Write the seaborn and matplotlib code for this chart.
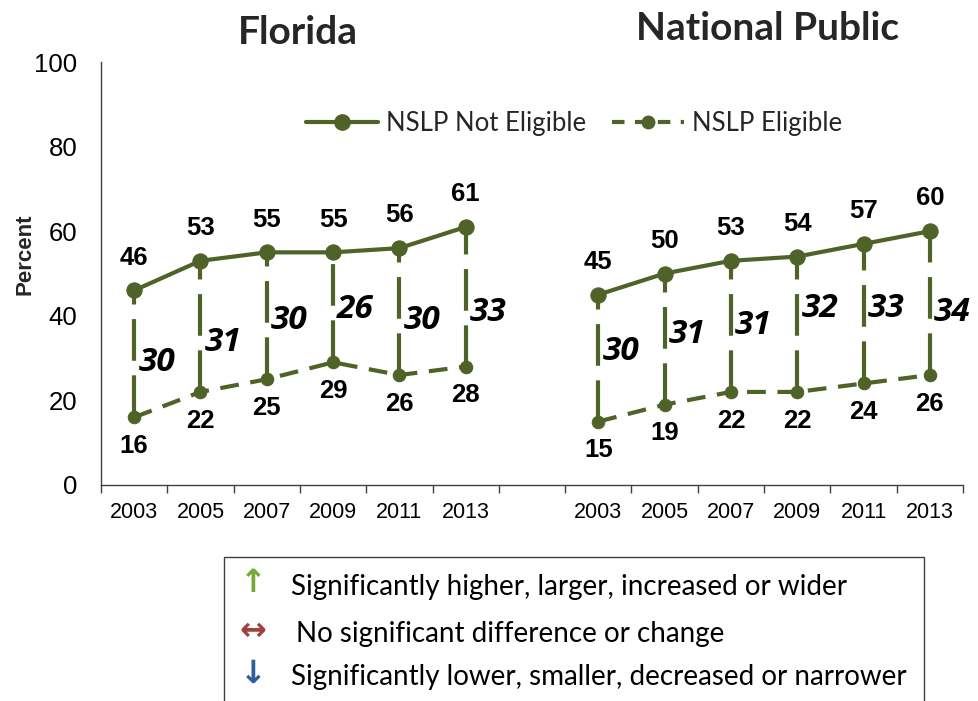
import matplotlib
matplotlib.use("Agg")
import matplotlib.pyplot as plt
from matplotlib.lines import Line2D
from matplotlib.patches import Rectangle
import seaborn as sns
import pandas as pd
import numpy as np

# ---------------- data ----------------
years = ["2003", "2005", "2007", "2009", "2011", "2013"]
panels = ["Florida", "National Public"]
fl_not_eligible = [46, 53, 55, 55, 56, 61]
fl_eligible = [16, 22, 25, 29, 26, 28]
fl_gap = [30, 31, 30, 26, 30, 33]
np_not_eligible = [45, 50, 53, 54, 57, 60]
np_eligible = [15, 19, 22, 22, 24, 26]
np_gap = [30, 31, 31, 32, 33, 34]
series_names = ["NSLP Not Eligible", "NSLP Eligible"]
sig_labels = ["Significantly higher, larger, increased or wider",
              "No significant difference or change",
              "Significantly lower, smaller, decreased or narrower"]

# ---------------- layout (not data) ----------------
fl_gap_label_y = [29, 33.8, 39, 41.4, 39, 40.7]
np_gap_label_y = [31.5, 35.5, 37.8, 41.8, 41.8, 40.7]
GREEN = "#4F6228"

sns.set_theme(style="white")
plt.rcParams["font.family"] = ["Liberation Sans", "DejaVu Sans"]

# build tidy frame: Florida at slots 0-5, empty slot 6, National at 7-12
rows = []
for p_i, (panel, ne, el) in enumerate(zip(panels,
                                          [fl_not_eligible, np_not_eligible],
                                          [fl_eligible, np_eligible])):
    for y_i, yr in enumerate(years):
        pos = y_i + p_i * (len(years) + 1)
        rows.append(dict(panel=panel, year=yr, pos=pos, series=series_names[0], value=ne[y_i]))
        rows.append(dict(panel=panel, year=yr, pos=pos, series=series_names[1], value=el[y_i]))
df = pd.DataFrame(rows)

fig = plt.figure(figsize=(9.79, 7.01), dpi=100)
ax = fig.add_axes([101 / 979, 1 - 485 / 701, (963 - 101) / 979, (485 - 62) / 701])

# vertical dashed gap connectors
wide = df.pivot_table(index=["panel", "pos"], columns="series", values="value").reset_index()
ax.vlines(wide["pos"], wide[series_names[1]], wide[series_names[0]],
          colors=GREEN, linewidth=3, linestyles=[(0, (10, 3.5))], zorder=2)

# series lines
d_ne = df[df.series == series_names[0]]
d_el = df[df.series == series_names[1]]
sns.lineplot(data=d_el, x="pos", y="value", units="panel", estimator=None,
             color=GREEN, linewidth=3, marker="o", markersize=9,
             markeredgecolor=GREEN, markerfacecolor=GREEN,
             dashes=False, ax=ax, legend=False, zorder=3)
for line in ax.get_lines():
    line.set_dashes((4.5, 2.8))
sns.lineplot(data=d_ne, x="pos", y="value", units="panel", estimator=None,
             color=GREEN, linewidth=3, marker="o", markersize=11,
             markeredgecolor=GREEN, markerfacecolor=GREEN,
             ax=ax, legend=False, zorder=4)

# value labels
for _, r in d_ne.iterrows():
    ax.annotate(str(int(r.value)), (r.pos, r.value), xytext=(0, 15), textcoords="offset points",
                ha="center", va="bottom", fontsize=18.5, fontweight="bold", color="black")
for _, r in d_el.iterrows():
    ax.annotate(str(int(r.value)), (r.pos, r.value), xytext=(0, -12), textcoords="offset points",
                ha="center", va="top", fontsize=18.5, fontweight="bold", color="black")

for p_i, (gaps, gys) in enumerate(zip([fl_gap, np_gap], [fl_gap_label_y, np_gap_label_y])):
    for y_i, (g, gy) in enumerate(zip(gaps, gys)):
        pos = y_i + p_i * (len(years) + 1)
        ax.annotate(str(g), (pos, gy), xytext=(3, 0), textcoords="offset points",
                    ha="left", va="center", fontsize=24, fontweight="bold", fontstyle="italic",
                    family=["Open Sans", "DejaVu Sans"], color="black")

# axes styling
n_slots = 2 * len(years) + 1
ax.set_xlim(-0.5, n_slots - 0.5)
ax.set_ylim(0, 100)
ax.set_yticks([0, 20, 40, 60, 80, 100])
ax.tick_params(axis="y", length=0, pad=17, labelsize=18.5, colors="black")
ax.set_xticks(np.arange(-0.5, n_slots, 1.0))
ax.set_xticklabels([])
centers = [i + p * (len(years) + 1) for p in range(2) for i in range(len(years))]
ax.set_xticks(centers, minor=True)
ax.set_xticklabels(years * 2, minor=True)
ax.tick_params(axis="x", which="major", length=6, width=1, direction="out", color="#404040", bottom=True)
ax.tick_params(axis="x", which="minor", length=0, pad=12, labelsize=15.5, colors="black", bottom=True)
ax.set_xlabel("")
ax.set_ylabel("")
for s in ["top", "right"]:
    ax.spines[s].set_visible(False)
for s in ["left", "bottom"]:
    ax.spines[s].set_color("#404040")
    ax.spines[s].set_linewidth(1)
ax.grid(False)

fig.text(25 / 979, 1 - 254 / 701, "Percent", rotation=90, ha="center", va="center",
         fontsize=16, fontweight="bold")

# panel titles
fig.text(298 / 979, 1 - 33 / 701, panels[0], ha="center", va="center",
         fontsize=28, fontweight="bold", family=["Lato", "DejaVu Sans"])
fig.text(768 / 979, 1 - 28 / 701, panels[1], ha="center", va="center",
         fontsize=28, fontweight="bold", family=["Lato", "DejaVu Sans"])

# legend
h1 = Line2D([], [], color=GREEN, linewidth=3, marker="o", markersize=11)
h2 = Line2D([], [], color=GREEN, linewidth=3, marker="o", markersize=9, dashes=(3, 2.5))
fig.legend([h1, h2], series_names, loc="center", bbox_to_anchor=(574 / 979, 1 - 123 / 701),
           ncol=2, frameon=False, handlelength=2.8, handletextpad=0.3, columnspacing=1.0,
           prop=dict(family=["Lato", "DejaVu Sans"], size=18.5))

# significance key box
fig.add_artist(Rectangle((224 / 979, -0.05), (924 - 224) / 979, 0.05 + (1 - 557 / 701),
                         transform=fig.transFigure, fill=False, edgecolor="#404040",
                         linewidth=1, clip_on=False))
arrow_syms = ["\u2191", "\u2194", "\u2193"]
arrow_cols = ["#77A83A", "#A0413E", "#2E5E9A"]
ys = [587, 634, 677]
xs = [291, 296, 291]
for sym, col, y, x, lab in zip(arrow_syms, arrow_cols, ys, xs, sig_labels):
    fig.text(253 / 979, 1 - (y - 3) / 701, sym, ha="center", va="center", color=col,
             fontsize=23, fontweight="bold", family=["DejaVu Sans"])
    fig.text(x / 979, 1 - y / 701, lab, ha="left", va="center", color="black",
             fontsize=20, family=["Lato", "DejaVu Sans"])

fig.savefig("out.png", dpi=100)
